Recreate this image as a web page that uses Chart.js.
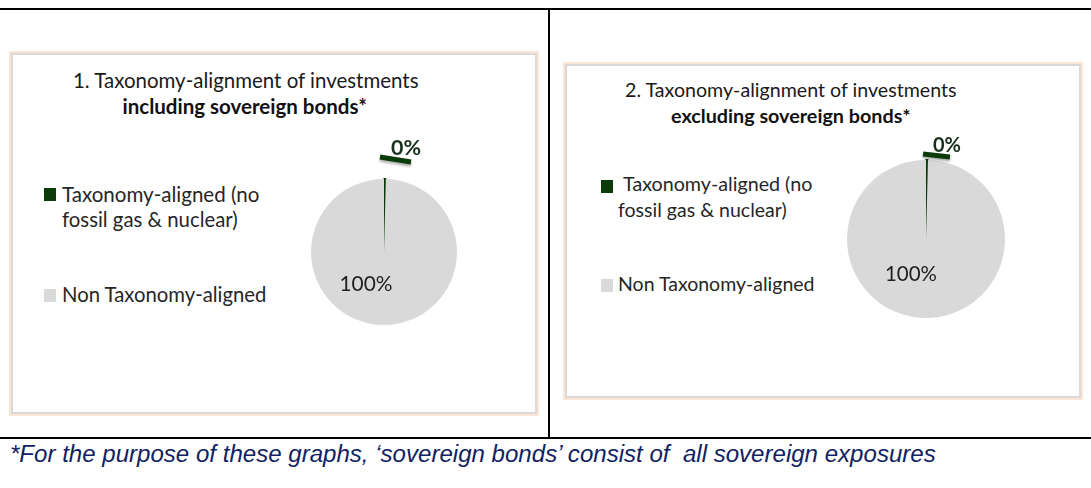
<!DOCTYPE html>
<html>
<head>
<meta charset="utf-8">
<script src="https://cdn.jsdelivr.net/npm/chart.js@4.4.1/dist/chart.umd.min.js"></script>
<style>
  html, body { margin:0; padding:0; background:#fff; }
  body { width:1091px; height:488px; position:relative; overflow:hidden; font-family: Lato, "Open Sans", sans-serif; color:#262626; }
  .hline { position:absolute; background:#000; height:2px; }
  .vline { position:absolute; background:#000; width:2px; }
  .box { position:absolute; box-sizing:border-box; border:2px solid #d9d9d9; outline:2px solid #fbe5d6; background:#fff; }
  .t { position:absolute; white-space:nowrap; line-height:1; }
  .sq { position:absolute; width:12px; height:13px; }
  canvas { position:absolute; }
  #foot { position:absolute; left:10px; top:441px; font-family:"Liberation Sans", Arial, sans-serif; font-style:italic; font-size:23px; color:#102263; white-space:nowrap; transform-origin:left top; }
</style>
</head>
<body>
<div class="hline" style="left:0;top:8px;width:1091px;"></div>
<div class="vline" style="left:548px;top:8px;height:431px;"></div>
<div class="hline" style="left:0;top:437px;width:1091px;"></div>

<div class="box" style="left:11px;top:53px;width:526px;height:361px;"></div>
<div class="box" style="left:565px;top:64px;width:516px;height:334px;"></div>

<div id="panels"></div>
<canvas id="c1" width="527" height="361" style="left:10px;top:52px;"></canvas>
<canvas id="c2" width="520" height="336" style="left:563px;top:63px;"></canvas>

<div id="foot">*For the purpose of these graphs, ‘sovereign bonds’ consist of&nbsp; all sovereign exposures</div>

<script>
// ---- data ----
const categories = ["Taxonomy-aligned (no fossil gas & nuclear)", "Non Taxonomy-aligned"];
const legendLines = [["Taxonomy-aligned (no", "fossil gas & nuclear)"], ["Non Taxonomy-aligned"]];
const inclSovereign = [0.4, 99.6];
const exclSovereign = [0.4, 99.6];
const titleLine1 = ["1. Taxonomy-alignment of investments", "2. Taxonomy-alignment of investments"];
const titleLine2 = ["including sovereign bonds*", "excluding sovereign bonds*"];
const colors = ["#0b3b0b", "#d9d9d9"];

const FONT = 'Lato, "Open Sans", sans-serif';

// ---- panel layout (HTML text) ----
const panels = document.getElementById('panels');
function addText(txt, x, cy, tw, opts) {
  const d = document.createElement('div');
  d.className = 't';
  d.textContent = txt;
  d.style.fontSize = '20px';
  if (opts.bold) d.style.fontWeight = 'bold';
  if (opts.color) d.style.color = opts.color;
  panels.appendChild(d);
  const size = 20 * tw / d.offsetWidth;
  d.style.fontSize = size.toFixed(2) + 'px';
  const w = d.offsetWidth, h = d.offsetHeight;
  d.style.left = (opts.align === 'left' ? x : x - w / 2) + 'px';
  d.style.top = (cy - h / 2 - 1) + 'px';
  return d;
}
function addSq(x, y, c) {
  const s = document.createElement('div');
  s.className = 'sq';
  s.style.left = x + 'px'; s.style.top = y + 'px'; s.style.background = c;
  panels.appendChild(s);
}
// panel 1
addText(titleLine1[0], 246, 81, 346, {color:'#1a1a1a'});
addText(titleLine2[0], 245, 107, 245, {bold:true, color:'#111'});
addSq(44, 188, colors[0]);
addText(legendLines[0][0], 62, 195, 197, {align:'left'});
addText(legendLines[0][1], 62, 220, 176, {align:'left'});
addSq(44, 289, colors[1]);
addText(legendLines[1][0], 62, 295, 205, {align:'left'});
// panel 2
addText(titleLine1[1], 791, 91, 332, {color:'#1a1a1a'});
addText(titleLine2[1], 791, 117, 240, {bold:true, color:'#111'});
addSq(601, 180, colors[0]);
addText(legendLines[0][0], 623, 185, 189, {align:'left'});
addText(legendLines[0][1], 618, 211, 169, {align:'left'});
addSq(601, 279, colors[1]);
addText(legendLines[1][0], 618, 285, 197, {align:'left'});

// ---- data label plugin (Excel-like) ----
function fitFont(ctx, txt, tw, bold) {
  ctx.font = (bold ? 'bold ' : '') + '20px ' + FONT;
  const s = 20 * tw / ctx.measureText(txt).width;
  ctx.font = (bold ? 'bold ' : '') + s.toFixed(2) + 'px ' + FONT;
}
const labelPlugin = {
  id: 'pieLabels',
  afterDatasetsDraw(chart, args, o) {
    const ctx = chart.ctx;
    const meta = chart.getDatasetMeta(0);
    const data = chart.data.datasets[0].data;
    const total = data.reduce((a, b) => a + b, 0);
    meta.data.forEach((arc, i) => {
      const p = arc.getProps(['x', 'y', 'outerRadius']);
      const txt = Math.round(data[i] / total * 100) + '%';
      ctx.save();
      ctx.textAlign = 'center';
      ctx.textBaseline = 'middle';
      if (i === 0) {
        ctx.save();
        ctx.shadowColor = 'rgba(0,0,0,0.35)';
        ctx.shadowBlur = 3;
        ctx.shadowOffsetY = 2;
        ctx.strokeStyle = colors[0];
        ctx.lineWidth = 5;
        ctx.beginPath();
        ctx.moveTo(p.x + o.lead[0], p.y + o.lead[1]);
        ctx.lineTo(p.x + o.lead[2], p.y + o.lead[3]);
        ctx.stroke();
        ctx.restore();
        ctx.fillStyle = '#16301c';
        fitFont(ctx, txt, o.smallW, true);
        ctx.fillText(txt, p.x + o.small[0], p.y + o.small[1]);
      } else {
        ctx.fillStyle = '#1f1f1f';
        fitFont(ctx, txt, o.bigW, false);
        ctx.fillText(txt, p.x + o.big[0], p.y + o.big[1]);
      }
      ctx.restore();
    });
  }
};

function makePie(id, values, pad, lbl) {
  return new Chart(document.getElementById(id), {
    type: 'pie',
    data: {
      labels: categories,
      datasets: [{ data: values, backgroundColor: colors, borderColor: colors, borderWidth: [2, 0] }]
    },
    options: {
      responsive: false,
      animation: false,
      layout: { padding: pad },
      plugins: { legend: { display: false }, tooltip: { enabled: false }, title: { display: false }, pieLabels: lbl }
    },
    plugins: [labelPlugin]
  });
}
makePie('c1', inclSovereign, { left: 300, right: 79, top: 126, bottom: 87 },
  { lead: [-4, -95, 27, -90], small: [22, -104], smallW: 30, big: [-18, 32], bigW: 53 });
makePie('c2', exclSovereign, { left: 283, right: 77, top: 96, bottom: 80 },
  { lead: [-3, -85, 24, -82], small: [21, -93], smallW: 28, big: [-15, 35], bigW: 52 });

const f = document.getElementById('foot');
f.style.transform = 'scaleX(' + (926 / f.offsetWidth) + ')';
</script>
</body>
</html>
